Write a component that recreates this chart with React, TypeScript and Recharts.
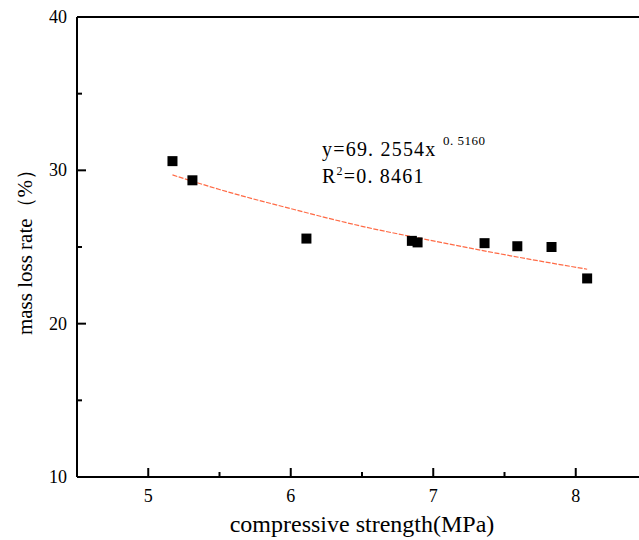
import React from "react"
import { ComposedChart, Scatter, Line, XAxis, YAxis, Label } from "recharts"

const strength = [5.17, 5.31, 6.11, 6.85, 6.89, 7.36, 7.59, 7.83, 8.08]
const massLoss = [30.6, 29.35, 25.55, 25.4, 25.3, 25.25, 25.05, 25.0, 22.95]

// fitted curve, read at a few x positions
const fitX = [5.17, 5.5, 6.0, 6.5, 7.0, 7.5, 8.08]
const fitY = [29.7, 28.75, 27.5, 26.35, 25.4, 24.5, 23.55]

const xTicks = [5, 5.5, 6, 6.5, 7, 7.5, 8]
const yTicks = [10, 15, 20, 25, 30, 35, 40]

const points = strength.map((x, i) => ({ x, y: massLoss[i] }))
const fit = fitX.map((x, i) => ({ x, y: fitY[i] }))

const FONT = "'Liberation Serif', 'Times New Roman', serif"

const BottomTick = (props: any) => {
    const { x, y, payload } = props
    const major = Number.isInteger(payload.value)
    return (
        <g>
            <line x1={x} x2={x} y1={y} y2={y - (major ? 9 : 5)} stroke="#000" strokeWidth={2} />
            {major && (
                <text x={x} y={y + 25} textAnchor="middle" fontFamily={FONT} fontSize={18} fill="#000">
                    {payload.value}
                </text>
            )}
        </g>
    )
}

const TopTick = (props: any) => {
    const { x, y, payload } = props
    const major = Number.isInteger(payload.value)
    return <line x1={x} x2={x} y1={y} y2={y + (major ? 9 : 5)} stroke="#000" strokeWidth={2} />
}

const LeftTick = (props: any) => {
    const { x, y, payload } = props
    const major = payload.value % 10 === 0
    return (
        <g>
            <line x1={x} x2={x + (major ? 9 : 5)} y1={y} y2={y} stroke="#000" strokeWidth={2} />
            {major && (
                <text x={x - 10} y={y + 6} textAnchor="end" fontFamily={FONT} fontSize={18} fill="#000">
                    {payload.value}
                </text>
            )}
        </g>
    )
}

const SquareDot = (props: any) => {
    const { cx, cy } = props
    return <rect x={cx - 5} y={cy - 5} width={10} height={10} fill="#000" />
}

export default function App() {
    return (
        <div style={{ position: "absolute", left: 0, top: 0, width: 639, height: 540, overflow: "hidden", background: "#fff" }}>
            <ComposedChart width={660} height={540} margin={{ top: 0, right: 13, bottom: 0, left: 0 }}>
                <XAxis
                    dataKey="x"
                    type="number"
                    domain={[4.5, 8.5]}
                    ticks={xTicks}
                    interval={0}
                    allowDataOverflow
                    height={63}
                    tickSize={0}
                    tickMargin={0}
                    tickLine={false}
                    axisLine={{ stroke: "#000", strokeWidth: 2 }}
                    tick={BottomTick}
                >
                    <Label
                        value="compressive strength(MPa)"
                        position="insideBottom"
                        offset={8}
                        style={{ fontFamily: FONT, fontSize: 24, fill: "#000" }}
                    />
                </XAxis>
                <XAxis
                    xAxisId="top"
                    orientation="top"
                    type="number"
                    domain={[4.5, 8.5]}
                    ticks={xTicks}
                    interval={0}
                    allowDataOverflow
                    height={17}
                    tickSize={0}
                    tickMargin={0}
                    tickLine={false}
                    axisLine={{ stroke: "#000", strokeWidth: 2 }}
                    tick={TopTick}
                />
                <YAxis
                    type="number"
                    domain={[10, 40]}
                    ticks={yTicks}
                    interval={0}
                    allowDataOverflow
                    width={77}
                    tickSize={0}
                    tickMargin={0}
                    tickLine={false}
                    axisLine={{ stroke: "#000", strokeWidth: 2 }}
                    tick={LeftTick}
                >
                    <Label
                        value="mass loss rate（%）"
                        angle={-90}
                        position="insideLeft"
                        offset={25}
                        style={{ fontFamily: FONT, fontSize: 21, fill: "#000", textAnchor: "middle" }}
                    />
                </YAxis>
                <Line
                    data={fit}
                    dataKey="y"
                    type="monotone"
                    stroke="#ff6a45"
                    strokeWidth={1.2}
                    strokeDasharray="5 1.5"
                    dot={false}
                    activeDot={false}
                    isAnimationActive={false}
                />
                <Scatter data={points} dataKey="y" shape={SquareDot} isAnimationActive={false} />
                <text x={322} y={156} fontFamily={FONT} fontSize={20} letterSpacing={1.2} fill="#000">
                    y=69. 2554x
                </text>
                <text x={443} y={145} fontFamily={FONT} fontSize={13} letterSpacing={0.5} fill="#000">
                    0. 5160
                </text>
                <text x={322} y={183} fontFamily={FONT} fontSize={20} letterSpacing={1.2} fill="#000">
                    R
                    <tspan fontSize={12} dy={-8}>2</tspan>
                    <tspan dy={8}>=0. 8461</tspan>
                </text>
            </ComposedChart>
        </div>
    )
}
